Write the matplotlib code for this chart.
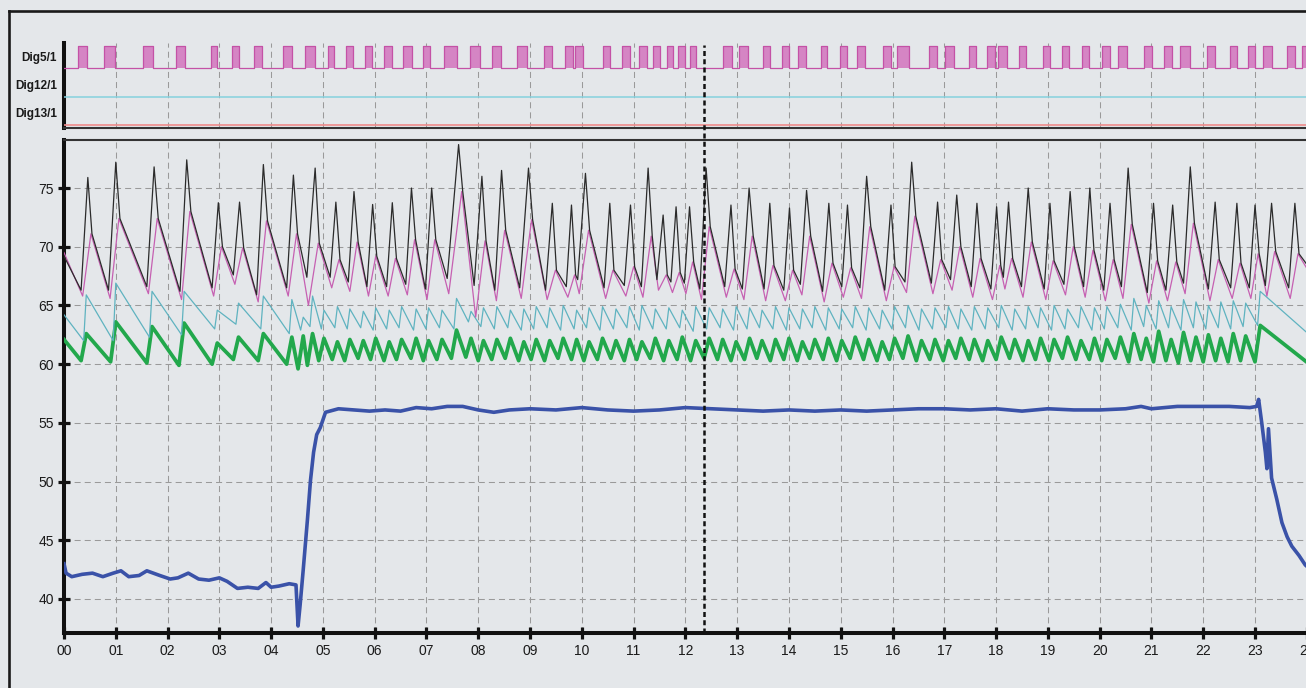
import numpy as np
import matplotlib.pyplot as plt
from matplotlib.lines import Line2D

plt.rcParams['font.family'] = ['Liberation Sans', 'DejaVu Sans']

W, H = 1306, 688
BG = '#e4e7ea'

# ---- Dig5/1 on periods (hours) ----
dig5_on = [0.27, 0.77, 1.53, 2.16, 2.84, 3.24, 3.67, 4.23, 4.65, 5.10,
           5.45, 5.81, 6.18, 6.55, 6.93, 7.34, 7.84, 8.27, 8.75, 9.27,
           9.68, 9.87, 10.41, 10.78, 11.10, 11.37, 11.65, 11.86, 12.09, 12.73,
           13.04, 13.50, 13.87, 14.18, 14.62, 14.99, 15.31, 15.82, 16.09, 16.71,
           17.01, 17.48, 17.83, 18.04, 18.44, 18.91, 19.27, 19.66, 20.05, 20.36,
           20.86, 21.24, 21.55, 22.07, 22.52, 22.87, 23.16, 23.62, 23.91]
dig5_off = [0.44, 0.98, 1.72, 2.34, 2.95, 3.38, 3.82, 4.40, 4.85, 5.21,
            5.58, 5.95, 6.33, 6.72, 7.07, 7.59, 8.03, 8.44, 8.94, 9.42,
            9.83, 10.02, 10.54, 10.93, 11.26, 11.51, 11.76, 11.99, 12.21, 12.90,
            13.21, 13.63, 14.00, 14.33, 14.74, 15.12, 15.47, 15.97, 16.32, 16.86,
            17.19, 17.61, 17.98, 18.21, 18.58, 19.04, 19.41, 19.80, 20.20, 20.53,
            21.01, 21.40, 21.75, 22.23, 22.65, 23.00, 23.33, 23.77, 24.10]

# ---- black / pink cycles ----
blk_lo_t = [0.33, 0.86, 1.60, 2.24, 2.86, 3.27, 3.72, 4.30, 4.69, 5.14,
            5.49, 5.85, 6.23, 6.60, 6.98, 7.40, 7.92, 8.32, 8.80, 9.30,
            9.70, 9.92, 10.43, 10.82, 11.15, 11.45, 11.72, 11.98, 12.28, 12.76,
            13.10, 13.52, 13.90, 14.22, 14.65, 15.02, 15.37, 15.85, 16.24, 16.75,
            17.12, 17.52, 17.90, 18.14, 18.49, 18.93, 19.31, 19.69, 20.08, 20.42,
            20.92, 21.28, 21.62, 22.10, 22.53, 22.89, 23.20, 23.65]
blk_lo = [66.3, 66.3, 66.6, 66.2, 66.5, 67.6, 65.9, 66.5, 67.4, 67.4,
          67.0, 66.6, 66.6, 66.8, 66.4, 67.3, 66.7, 66.3, 66.5, 66.3,
          66.6, 67.2, 66.5, 66.7, 66.6, 67.2, 67.0, 66.9, 66.4, 66.6,
          66.4, 66.4, 66.3, 66.8, 66.2, 66.6, 66.5, 66.3, 67.0, 66.9,
          67.2, 66.6, 66.4, 67.4, 66.6, 66.4, 66.8, 66.6, 66.3, 66.6,
          66.1, 66.3, 66.9, 66.4, 66.5, 66.5, 66.7, 66.5]
blk_hi_t = [0.46, 1.00, 1.74, 2.37, 2.98, 3.39, 3.85, 4.43, 4.85, 5.25,
            5.60, 5.96, 6.34, 6.71, 7.10, 7.62, 8.07, 8.45, 8.97, 9.43,
            9.80, 10.07, 10.54, 10.94, 11.28, 11.57, 11.82, 12.08, 12.40, 12.88,
            13.23, 13.63, 14.01, 14.34, 14.77, 15.13, 15.50, 15.97, 16.37, 16.87,
            17.24, 17.63, 18.01, 18.24, 18.62, 19.04, 19.43, 19.81, 20.20, 20.55,
            21.04, 21.41, 21.75, 22.23, 22.65, 23.00, 23.32, 23.77]
blk_hi = [75.9, 77.2, 76.8, 77.4, 73.75, 73.8, 77.0, 76.1, 76.7, 73.8,
          74.7, 73.6, 73.75, 75.0, 75.0, 78.7, 76.0, 76.5, 76.7, 73.7,
          73.55, 76.25, 73.7, 73.55, 76.7, 72.7, 73.4, 73.4, 76.7, 73.55,
          75.0, 73.7, 73.3, 74.8, 73.7, 73.55, 76.0, 73.55, 77.2, 73.8,
          74.4, 73.7, 73.4, 73.8, 75.0, 73.7, 74.7, 75.0, 73.7, 76.7,
          73.7, 73.55, 76.8, 73.8, 73.7, 73.55, 73.7, 73.7]
pnk_hi = [71.1, 72.4, 72.4, 73.0, 70.0, 69.9, 72.2, 71.1, 70.3, 68.9,
          70.4, 69.2, 69.0, 70.6, 70.6, 74.7, 70.5, 71.4, 72.3, 68.0,
          67.6, 71.4, 68.0, 68.3, 70.9, 67.6, 67.8, 68.7, 71.7, 68.1,
          70.9, 68.4, 68.0, 70.9, 68.6, 68.2, 71.7, 68.3, 72.6, 68.9,
          70.0, 69.0, 68.4, 69.0, 70.4, 68.8, 70.0, 69.7, 68.9, 71.9,
          68.8, 68.7, 72.0, 68.9, 68.6, 69.4, 69.6, 69.4]
pnk_lo = [65.8, 65.6, 66.0, 65.5, 65.8, 66.8, 65.3, 65.8, 65.0, 66.5,
          66.2, 65.8, 65.8, 65.9, 65.5, 66.0, 64.0, 65.4, 65.6, 65.5,
          65.7, 66.0, 65.6, 65.8, 65.7, 66.3, 66.1, 66.0, 65.5, 65.7,
          65.5, 65.4, 65.4, 65.9, 65.3, 65.7, 65.6, 65.4, 66.1, 66.0,
          66.3, 65.7, 65.5, 66.4, 65.7, 65.5, 65.9, 65.7, 65.4, 65.6,
          65.2, 65.4, 66.0, 65.4, 65.6, 65.6, 65.8, 65.6]
blk_start, blk_end = 69.2, 68.2
pnk_start, pnk_end = 69.5, 67.8

# ---- cyan / green oscillation peaks ----
osc_t = [0.43, 1.00, 1.70, 2.32, 2.96, 3.37, 3.85, 4.40,
         4.62, 4.80, 5.02, 5.28, 5.52, 5.78, 6.02, 6.28, 6.52, 6.80,
         7.04, 7.30, 7.58, 7.86, 8.10, 8.36, 8.62, 8.88, 9.12, 9.38,
         9.64, 9.90, 10.14, 10.40, 10.66, 10.92, 11.16, 11.42, 11.68, 11.94,
         12.20, 12.46, 12.72, 12.98, 13.24, 13.48, 13.74, 14.00, 14.26, 14.50,
         14.76, 15.02, 15.28, 15.54, 15.80, 16.04, 16.30, 16.56, 16.82, 17.08,
         17.32, 17.58, 17.84, 18.10, 18.36, 18.62, 18.86, 19.12, 19.38, 19.64,
         19.90, 20.14, 20.40, 20.66, 20.90, 21.14, 21.38, 21.62, 21.86, 22.10,
         22.34, 22.58, 22.82, 23.10]
cyn_hi = [65.9, 66.9, 66.2, 66.2, 64.6, 65.2, 65.8, 65.5,
          64.0, 65.8, 64.6, 64.9, 64.7, 64.5, 64.8, 64.6, 64.9, 64.7,
          64.8, 64.6, 65.6, 64.5, 64.8, 64.9, 64.6, 64.7, 64.9, 64.8,
          65.0, 64.6, 64.8, 64.9, 64.7, 64.9, 65.0, 64.7, 64.8, 64.6,
          64.9, 64.8, 64.7, 64.9, 64.8, 64.6, 64.9, 64.8, 64.7, 64.9,
          64.8, 64.7, 64.9, 64.8, 64.6, 64.9, 65.0, 64.7, 64.8, 64.9,
          64.7, 64.9, 64.8, 65.0, 64.7, 64.9, 64.8, 65.0, 64.7, 64.9,
          64.8, 64.9, 65.1, 65.6, 65.0, 65.4, 64.9, 65.5, 65.3, 65.0,
          65.3, 65.4, 65.2, 66.2]
cyn_lo = [62.0, 62.0, 62.3, 62.5, 63.0, 63.4, 63.0, 62.6,
          62.9, 63.2, 63.0, 63.1, 63.0, 63.1, 62.9, 63.0, 63.1, 62.9,
          63.0, 63.1, 63.0, 63.6, 63.2, 63.0, 63.1, 62.9, 63.0, 63.1,
          62.9, 63.0, 63.1, 62.9, 63.0, 63.1, 62.9, 63.0, 63.0, 63.1,
          62.8, 63.0, 63.1, 62.9, 63.0, 63.1, 63.0, 62.9, 63.0, 63.1,
          62.9, 63.0, 63.1, 62.9, 63.0, 63.0, 63.1, 62.9, 63.0, 63.1,
          63.0, 62.9, 63.0, 63.1, 62.9, 63.0, 63.1, 62.9, 63.0, 63.1,
          62.9, 63.0, 63.1, 62.9, 63.2, 63.0, 63.1, 62.9, 63.1, 63.0,
          63.1, 63.0, 63.2, 63.3]
grn_hi = [62.6, 63.6, 63.2, 63.5, 61.8, 62.3, 62.6, 62.3,
          62.4, 62.6, 62.2, 61.9, 62.1, 62.0, 62.2, 61.9, 62.1, 62.2,
          62.0, 62.1, 62.9, 62.2, 62.0, 62.1, 62.2, 61.9, 62.1, 62.0,
          62.2, 62.1, 61.9, 62.2, 62.0, 62.1, 61.9, 62.2, 62.0, 62.3,
          62.0, 62.2, 62.1, 61.9, 62.2, 62.0, 62.1, 62.2, 61.9, 62.1,
          62.2, 62.0, 62.3, 62.1, 61.9, 62.2, 62.4, 62.0, 62.1, 62.0,
          62.2, 62.1, 62.0, 62.3, 62.1, 62.0, 62.2, 62.1, 62.3, 62.0,
          62.2, 62.1, 62.3, 62.6, 62.2, 62.8, 62.1, 62.7, 62.3, 62.5,
          62.2, 62.6, 62.4, 63.3]
grn_lo = [60.3, 60.2, 60.1, 59.9, 60.0, 60.4, 60.3, 60.0,
          59.6, 59.9, 60.3, 60.4, 60.3, 60.5, 60.4, 60.3, 60.4, 60.5,
          60.3, 60.4, 60.5, 60.6, 60.3, 60.4, 60.5, 60.3, 60.4, 60.3,
          60.5, 60.4, 60.3, 60.4, 60.5, 60.3, 60.4, 60.5, 60.3, 60.4,
          60.3, 60.5, 60.4, 60.3, 60.4, 60.5, 60.3, 60.4, 60.3, 60.5,
          60.4, 60.3, 60.5, 60.4, 60.3, 60.4, 60.5, 60.3, 60.4, 60.3,
          60.5, 60.4, 60.3, 60.4, 60.5, 60.3, 60.4, 60.3, 60.5, 60.4,
          60.4, 60.3, 60.5, 60.2, 60.4, 60.2, 60.3, 60.1, 60.3, 60.2,
          60.3, 60.2, 60.3, 60.2]
cyn_start, cyn_end = 64.2, 62.5
grn_start, grn_end = 62.1, 60.0

# ---- blue trace ----
blue_t = [0.00, 0.04, 0.15, 0.35, 0.55, 0.75, 0.95, 1.10, 1.25, 1.45,
          1.60, 1.85, 2.05, 2.20, 2.40, 2.60, 2.80, 3.00, 3.15, 3.35,
          3.55, 3.75, 3.90, 4.00, 4.15, 4.35, 4.48, 4.52, 4.56, 4.62,
          4.70, 4.76, 4.82, 4.88, 4.95, 5.05, 5.30, 5.60, 5.90, 6.20,
          6.50, 6.80, 7.10, 7.40, 7.70, 8.00, 8.30, 8.60, 9.00, 9.50,
          10.00, 10.50, 11.00, 11.50, 12.00, 12.50, 13.00, 13.50, 14.00, 14.50,
          15.00, 15.50, 16.00, 16.50, 17.00, 17.50, 18.00, 18.50, 19.00, 19.50,
          20.00, 20.50, 20.80, 21.00, 21.50, 22.00, 22.50, 22.90, 23.03, 23.07,
          23.13, 23.20, 23.23, 23.26, 23.32, 23.42, 23.52, 23.62, 23.71, 23.85,
          23.97, 24.05]
blue_v = [43.0, 42.2, 41.9, 42.1, 42.2, 41.9, 42.2, 42.4, 41.9, 42.0,
          42.4, 42.0, 41.7, 41.8, 42.2, 41.7, 41.6, 41.8, 41.5, 40.9,
          41.0, 40.9, 41.4, 41.0, 41.1, 41.3, 41.2, 37.7, 39.5, 42.5,
          46.7, 50.1, 52.5, 54.0, 54.6, 55.9, 56.2, 56.1, 56.0, 56.1,
          56.0, 56.3, 56.2, 56.4, 56.4, 56.1, 55.9, 56.1, 56.2, 56.1,
          56.3, 56.1, 56.0, 56.1, 56.3, 56.2, 56.1, 56.0, 56.1, 56.0,
          56.1, 56.0, 56.1, 56.2, 56.2, 56.1, 56.2, 56.0, 56.2, 56.1,
          56.1, 56.2, 56.4, 56.2, 56.4, 56.4, 56.4, 56.3, 56.4, 57.0,
          55.0, 52.5, 51.1, 54.5, 50.3, 48.5, 46.5, 45.3, 44.5, 43.7,
          42.9, 42.6]

cursor_t = 12.36
hours = list(range(0, 25))
hour_labels = ['%02d' % h for h in hours]
main_yticks = [40, 45, 50, 55, 60, 65, 70, 75]
dig_names = ['Dig5/1', 'Dig12/1', 'Dig13/1']

fig = plt.figure(figsize=(W / 100, H / 100), dpi=100, facecolor=BG)

left = 64 / W
width = 24 * 51.783 / W
ax_top = fig.add_axes([left, 1 - 128 / H, width, 85 / H], facecolor=BG)
ax = fig.add_axes([left, 1 - 632.8 / H, width, (632.8 - 140) / H], facecolor=BG)

grid_kw = dict(color='#9a9a9a', lw=0.75, ls=(0, (5.8, 3.9)))

# ---- digital panel ----
sx = [0.0]; sy = [0]
for on, off in zip(dig5_on, dig5_off):
    sx += [on, on, off, off]; sy += [0, 1, 1, 0]
sx.append(24.5); sy.append(0)
sx = np.array(sx); sy = np.array(sy)
base5, amp5 = 60, 22
ax_top.fill_between(sx, base5, base5 + amp5 * sy, color='#d585c4', lw=0, zorder=2)
ax_top.plot(sx, base5 + amp5 * sy, color='#c452a6', lw=0.9, zorder=3)
ax_top.axhline(31.5, color='#86d2de', lw=1.1, zorder=3)
ax_top.axhline(3.5, color='#ee8b8b', lw=1.2, zorder=3)
ax_top.set_xlim(0, 24)
ax_top.set_ylim(0, 85)
ax_top.set_xticks(hours)
ax_top.xaxis.grid(True, **grid_kw)
ax_top.set_axisbelow(True)
ax_top.tick_params(axis='x', length=0, labelbottom=False)
ax_top.set_yticks([71, 43, 15])
ax_top.set_yticklabels(dig_names, fontsize=8.5, fontweight='bold', color='#1a1a1a')
ax_top.tick_params(axis='y', length=0, pad=5)
for s in ['top', 'right']:
    ax_top.spines[s].set_visible(False)
ax_top.spines['left'].set_linewidth(2.9)
ax_top.spines['left'].set_color('#111111')
ax_top.spines['bottom'].set_linewidth(1.5)
ax_top.spines['bottom'].set_color('#333333')

# ---- analog panel ----
ax.plot(blue_t, blue_v, color='#3a52a8', lw=2.6, zorder=3, solid_joinstyle='round')

gx = [0.0]; gy = [grn_start]
cx = [0.0]; cy = [cyn_start]
for t, ch, cl, gh, gl in zip(osc_t, cyn_hi, cyn_lo, grn_hi, grn_lo):
    cx += [t - 0.05, t]; cy += [cl, ch]
    gx += [t - 0.10, t]; gy += [gl, gh]
cx.append(24.05); cy.append(cyn_end)
gx.append(24.05); gy.append(grn_end)
ax.plot(gx, gy, color='#22a84c', lw=2.7, zorder=4, solid_joinstyle='round')
ax.plot(cx, cy, color='#5fb3c0', lw=0.9, zorder=5)

px = [0.0]; py = [pnk_start]
bx = [0.0]; by = [blk_start]
for tl, vl, th, vh, pk, pl in zip(blk_lo_t, blk_lo, blk_hi_t, blk_hi, pnk_hi, pnk_lo):
    bx += [tl, th, th + 0.08]; by += [vl, vh, pk]
    px += [tl + 0.03, th + 0.06]; py += [pl, pk]
bx.append(24.05); by.append(blk_end)
px.append(24.05); py.append(pnk_end)
ax.plot(px, py, color='#c660b2', lw=0.9, zorder=6)
ax.plot(bx, by, color='#2b2b2b', lw=0.9, zorder=7)

ax.set_xlim(0, 24)
ax.set_ylim(37.12, 79.09)
ax.set_xticks(hours)
ax.set_xticklabels(hour_labels)
ax.set_yticks(main_yticks)
ax.grid(True, **grid_kw)
ax.set_axisbelow(True)
ax.tick_params(direction='inout', length=8.8, width=2.3, color='#111111',
               labelsize=10, labelcolor='#1a1a1a')
ax.tick_params(axis='x', pad=3.5)
ax.tick_params(axis='y', pad=3.0)
ax.spines['right'].set_visible(False)
ax.spines['left'].set_linewidth(2.9)
ax.spines['bottom'].set_linewidth(2.9)
ax.spines['left'].set_color('#111111')
ax.spines['bottom'].set_color('#111111')
ax.spines['top'].set_linewidth(1.5)
ax.spines['top'].set_color('#333333')

# cursor across both panels
ax.plot([cursor_t, cursor_t], [37.12, 87.2], color='#111111', lw=1.8,
        ls=(0, (2.0, 1.3)), clip_on=False, zorder=10)

# outer frame
fig.add_artist(Line2D([8.7 / W, 8.7 / W], [0, 1 - 10.5 / H], transform=fig.transFigure,
                      color='#1a1a1a', lw=1.9))
fig.add_artist(Line2D([8.7 / W, 1.0], [1 - 10.5 / H, 1 - 10.5 / H], transform=fig.transFigure,
                      color='#1a1a1a', lw=1.9))

fig.savefig('out.png', dpi=100, facecolor=BG)
